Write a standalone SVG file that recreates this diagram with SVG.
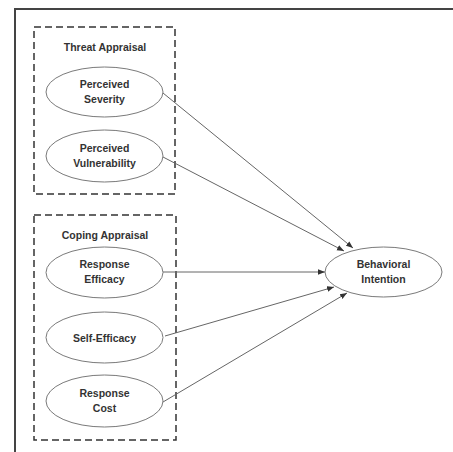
<svg xmlns="http://www.w3.org/2000/svg" width="453" height="452" viewBox="0 0 453 452">
<defs>
<style>
.frame{fill:none;stroke:#444;stroke-width:2}
.group{fill:none;stroke:#333;stroke-width:1.5;stroke-dasharray:7,4}
.node ellipse{fill:#fff;stroke:#7a7a7a;stroke-width:1}
text{font-family:"Liberation Sans",Arial,sans-serif;font-weight:bold;font-size:10.5px;fill:#333;text-anchor:middle}
.edge{stroke:#666;stroke-width:1;fill:none;marker-end:url(#ah)}
</style>
<marker id="ah" viewBox="0 0 10 10" refX="10" refY="5" markerWidth="7" markerHeight="7" markerUnits="userSpaceOnUse" orient="auto">
<path d="M0,1 L10,5 L0,9 z" fill="#333"/>
</marker>
</defs>
<rect width="453" height="452" fill="#fff"/>
<path class="frame" d="M15,460 L15,9 L460,9"/>
<g id="threat-appraisal">
<rect class="group" x="34" y="27" width="141" height="167"/>
<text x="105" y="51">Threat Appraisal</text>
</g>
<g id="coping-appraisal">
<rect class="group" x="34" y="215" width="142" height="225"/>
<text x="105" y="239">Coping Appraisal</text>
</g>
<g id="connectors">
<line class="edge" x1="163" y1="93" x2="353" y2="248"/>
<line class="edge" x1="163" y1="157" x2="344" y2="251"/>
<line class="edge" x1="163" y1="272" x2="325" y2="272"/>
<line class="edge" x1="165" y1="336" x2="334" y2="287"/>
<line class="edge" x1="163" y1="402" x2="347" y2="293"/>
</g>
<g id="perceived-severity" class="node">
<ellipse cx="104.5" cy="92" rx="58.5" ry="25"/>
<text x="104.5" y="88">Perceived</text>
<text x="104.5" y="103">Severity</text>
</g>
<g id="perceived-vulnerability" class="node">
<ellipse cx="104.5" cy="156" rx="58.5" ry="26"/>
<text x="104.5" y="152">Perceived</text>
<text x="104.5" y="167">Vulnerability</text>
</g>
<g id="response-efficacy" class="node">
<ellipse cx="104.5" cy="272.5" rx="58.5" ry="25.5"/>
<text x="104.5" y="268">Response</text>
<text x="104.5" y="283">Efficacy</text>
</g>
<g id="self-efficacy" class="node">
<ellipse cx="104.5" cy="337.5" rx="58.5" ry="25.5"/>
<text x="104.5" y="341.5">Self-Efficacy</text>
</g>
<g id="response-cost" class="node">
<ellipse cx="104.5" cy="401" rx="58.5" ry="26"/>
<text x="104.5" y="397">Response</text>
<text x="104.5" y="412">Cost</text>
</g>
<g id="behavioral-intention" class="node">
<ellipse cx="383.5" cy="272" rx="58.5" ry="25"/>
<text x="383.5" y="268">Behavioral</text>
<text x="383.5" y="283">Intention</text>
</g>
</svg>
